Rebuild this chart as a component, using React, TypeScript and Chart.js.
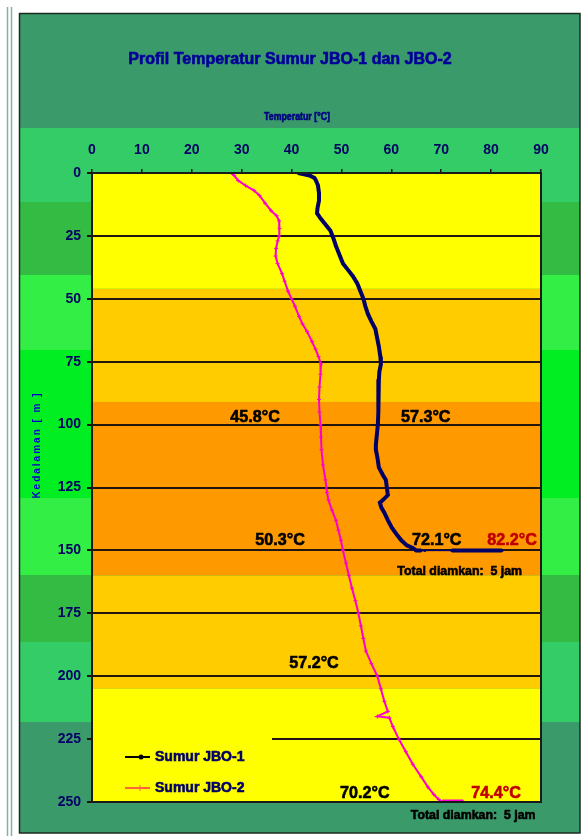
import { useEffect, useRef } from 'react';
import { Chart, registerables } from 'chart.js';
Chart.register(...registerables);

const W = 582;
const H = 836;

const tempTicks = [0, 10, 20, 30, 40, 50, 60, 70, 80, 90];
const depthTicks = [0, 25, 50, 75, 100, 125, 150, 175, 200, 225, 250];

// Sumur JBO-1 (depth m, temperature °C)
const jbo1Depth = [0, 0.5, 1, 2, 3, 5, 8, 11, 14, 16, 18, 20, 23, 26, 29, 32, 36, 39, 41, 44, 47, 50, 53, 56, 59, 62, 66, 69, 73, 76, 79, 82, 86, 90, 95, 100, 104, 108, 110, 113, 117, 120, 122, 125, 128, 130, 131, 133, 135, 138, 141, 144, 146, 148, 149, 150, 150, 150, 150, 150, 150, 150, 150, 150, 150, 150, 150, 150];
const jbo1Temp = [41.3, 42.5, 43.6, 44.6, 44.9, 45.3, 45.5, 45.5, 45.2, 45.1, 45.8, 46.6, 47.8, 48.4, 48.9, 49.5, 50.3, 51.5, 52.3, 53.2, 53.8, 54.4, 54.8, 55.3, 56.0, 56.8, 57.2, 57.5, 57.8, 57.9, 57.6, 57.5, 57.4, 57.4, 57.4, 57.3, 57.1, 56.9, 56.9, 57.2, 57.5, 58.3, 58.9, 59.1, 59.3, 58.3, 57.7, 58.0, 58.6, 59.3, 60.1, 61.2, 62.0, 63.1, 64.2, 65.0, 66.0, 66.7, 72.1, 74.5, 75.5, 76.5, 77.5, 78.5, 79.5, 80.5, 81.5, 82.2];

// Sumur JBO-2
const jbo2Depth = [0, 1, 3, 5, 7, 9, 12, 15, 17, 19, 22, 25, 27, 30, 33, 36, 40, 43, 47, 50, 53, 57, 60, 63, 67, 70, 73, 76, 80, 85, 90, 95, 100, 105, 110, 116, 122, 127, 130, 134, 138, 142, 146, 150, 155, 160, 165, 170, 175, 180, 185, 190, 195, 200, 205, 210, 214, 216, 216.5, 220, 225, 230, 235, 240, 244, 247, 249, 250, 250, 250, 250, 250, 250, 250];
const jbo2Temp = [28.0, 28.5, 29.3, 30.8, 32.5, 33.6, 34.7, 35.9, 37.0, 37.5, 37.6, 37.5, 37.2, 36.9, 36.8, 37.2, 38.1, 38.6, 39.3, 40.0, 40.7, 41.5, 42.2, 43.1, 44.1, 44.8, 45.4, 45.9, 45.8, 45.6, 45.5, 45.6, 45.8, 45.9, 46.0, 46.3, 46.8, 47.1, 47.4, 48.1, 48.9, 49.4, 49.9, 50.3, 50.9, 51.5, 52.1, 52.8, 53.4, 53.9, 54.4, 54.9, 56.0, 57.2, 57.9, 58.6, 59.3, 57.2, 59.6, 60.3, 61.5, 62.9, 64.3, 66.0, 67.3, 68.5, 69.5, 70.2, 71.0, 71.8, 72.5, 73.2, 73.8, 74.4];

// temperature zones inside plot (depth bounds)
const zoneDepths = [0, 46, 91, 160, 205, 250];
const zoneColors = ['#FFFF00', '#FFCC00', '#FF9900', '#FFCC00', '#FFFF00'];

// outer decorative bands (pixel rows)
const outerBands: [number, number, string][] = [
  [13, 128, '#3A9A6A'],
  [128, 202, '#33CC66'],
  [202, 275, '#33BB44'],
  [275, 350, '#33EE44'],
  [350, 498, '#00EE22'],
  [498, 575, '#33EE44'],
  [575, 642, '#33BB44'],
  [642, 722, '#33CC66'],
  [722, 833, '#3A9A6A'],
];

const notes = [
  { text: '45.8°C', t: 32.7, d: 97, color: '#000000', size: 17 },
  { text: '57.3°C', t: 66.9, d: 97, color: '#000000', size: 17 },
  { text: '50.3°C', t: 37.7, d: 146, color: '#000000', size: 17 },
  { text: '72.1°C', t: 69.1, d: 146, color: '#000000', size: 17 },
  { text: '82.2°C', t: 84.2, d: 146, color: '#C00000', size: 17 },
  { text: 'Total diamkan:  5 jam', t: 73.7, d: 158.3, color: '#000000', size: 13 },
  { text: '57.2°C', t: 44.5, d: 194.8, color: '#000000', size: 17 },
  { text: '70.2°C', t: 54.7, d: 246.4, color: '#000000', size: 17 },
  { text: '74.4°C', t: 81.0, d: 246.4, color: '#C00000', size: 17 },
  { text: 'Total diamkan:  5 jam', t: 76.4, d: 255.2, color: '#000000', size: 13 },
];

const FONT = '"Liberation Sans", Arial, sans-serif';

function txt(ctx: CanvasRenderingContext2D, s: string, x: number, y: number, font: string, color: string, align: CanvasTextAlign = 'center', sx = 1) {
  ctx.save();
  ctx.font = font;
  ctx.fillStyle = color;
  ctx.strokeStyle = color;
  ctx.lineWidth = 0.6;
  ctx.textAlign = align;
  ctx.textBaseline = 'middle';
  ctx.translate(x, y);
  ctx.scale(sx, 1);
  ctx.fillText(s, 0, 0);
  ctx.strokeText(s, 0, 0);
  ctx.restore();
}

const bgPlugin = {
  id: 'bgPlugin',
  beforeDraw(chart: any) {
    const ctx: CanvasRenderingContext2D = chart.ctx;
    const ca = chart.chartArea;
    const ys = chart.scales.y;
    ctx.save();
    ctx.fillStyle = '#FFFFFF';
    ctx.fillRect(0, 0, W, H);
    // page double lines
    ctx.strokeStyle = '#86B0A2';
    ctx.lineWidth = 1.5;
    [7.5, 11.5].forEach((x) => {
      ctx.beginPath();
      ctx.moveTo(x, 7);
      ctx.lineTo(x, H);
      ctx.stroke();
    });
    // outer bands
    outerBands.forEach(([y0, y1, c]) => {
      ctx.fillStyle = c;
      ctx.fillRect(19, y0, 561, y1 - y0);
    });
    ctx.strokeStyle = '#1C2A20';
    ctx.lineWidth = 1.5;
    ctx.strokeRect(19.5, 13.5, 560.5, 819.5);
    // plot zones
    for (let i = 0; i < zoneColors.length; i++) {
      const a = ys.getPixelForValue(zoneDepths[i]);
      const b = ys.getPixelForValue(zoneDepths[i + 1]);
      ctx.fillStyle = zoneColors[i];
      ctx.fillRect(ca.left, a, ca.right - ca.left, b - a);
    }
    ctx.restore();
  },
  afterDatasetsDraw(chart: any) {
    const ctx: CanvasRenderingContext2D = chart.ctx;
    const ca = chart.chartArea;
    const xs = chart.scales.x;
    const ys = chart.scales.y;
    ctx.save();
    // legend box
    ctx.fillStyle = '#FFFF00';
    ctx.fillRect(ca.left + 1, 733, 179, ca.bottom - 733 - 1);
    // frame
    ctx.strokeStyle = '#1A1A1A';
    ctx.lineWidth = 2;
    ctx.strokeRect(ca.left, ca.top, ca.right - ca.left, ca.bottom - ca.top);
    // legend entries
    ctx.lineWidth = 2;
    ctx.strokeStyle = '#000000';
    ctx.beginPath(); ctx.moveTo(125, 757); ctx.lineTo(150, 757); ctx.stroke();
    ctx.fillStyle = '#000000';
    ctx.beginPath(); ctx.arc(141, 757, 2.5, 0, Math.PI * 2); ctx.fill();
    ctx.strokeStyle = '#FF6633';
    ctx.beginPath(); ctx.moveTo(125, 788); ctx.lineTo(150, 788); ctx.stroke();
    ctx.lineWidth = 1;
    ctx.beginPath(); ctx.moveTo(140, 785); ctx.lineTo(140, 791); ctx.stroke();
    txt(ctx, 'Sumur JBO-1', 155, 757, `bold 14px ${FONT}`, '#000066', 'left');
    txt(ctx, 'Sumur JBO-2', 155, 788, `bold 14px ${FONT}`, '#000066', 'left');
    // annotations
    notes.forEach((n) => {
      txt(ctx, n.text, xs.getPixelForValue(n.t), ys.getPixelForValue(n.d), `bold ${n.size}px ${FONT}`, n.color, 'center', 0.95);
    });
    // titles
    txt(ctx, 'Profil Temperatur Sumur JBO-1 dan JBO-2', 290, 60, `bold 16px ${FONT}`, '#000099', 'center');
    txt(ctx, 'Temperatur [°C]', 297, 117, `bold 11px ${FONT}`, '#000080', 'center', 0.8);
    ctx.save();
    ctx.translate(37, 445);
    ctx.rotate(-Math.PI / 2);
    ctx.font = `bold 10px ${FONT}`;
    (ctx as any).letterSpacing = '2px';
    ctx.fillStyle = '#0000CC';
    ctx.textAlign = 'center';
    ctx.textBaseline = 'middle';
    ctx.fillText('Kedalaman [ m ]', 0, 0);
    ctx.restore();
    ctx.restore();
  },
};

export default function App() {
  const ref = useRef<HTMLCanvasElement>(null);
  useEffect(() => {
    if (!ref.current) return;
    const d1 = jbo1Depth.map((d, i) => ({ x: jbo1Temp[i], y: d }));
    const d2 = jbo2Depth.map((d, i) => ({ x: jbo2Temp[i], y: d }));
    const chart = new Chart(ref.current, {
      type: 'scatter',
      data: {
        datasets: [
          {
            label: 'Sumur JBO-1',
            data: d1,
            showLine: true,
            borderColor: '#000066',
            backgroundColor: '#000066',
            borderWidth: 4,
            pointRadius: 1.5,
            pointBorderWidth: 0,
            segment: {
              borderWidth: (c: any) => (c.p0.parsed.y === 150 && c.p1.parsed.x < 74 && c.p0.parsed.x > 65.5 ? 1.5 : 4),
            },
          } as any,
          {
            label: 'Sumur JBO-2',
            data: d2,
            showLine: true,
            borderColor: '#FF00CC',
            backgroundColor: '#FF00CC',
            borderWidth: 2,
            pointStyle: 'cross',
            pointRadius: 2,
            pointBorderWidth: 1,
            segment: {
              borderWidth: (c: any) => (c.p0.parsed.y === 250 && c.p1.parsed.y === 250 ? 5 : 2),
            },
          } as any,
        ],
      },
      options: {
        animation: false,
        responsive: false,
        devicePixelRatio: 1,
        layout: { padding: { left: 0, top: 0, right: 41, bottom: 34 } },
        plugins: { legend: { display: false }, tooltip: { enabled: false }, title: { display: false } },
        scales: {
          x: {
            type: 'linear',
            position: 'top',
            min: 0,
            max: 90,
            afterBuildTicks: (axis: any) => { axis.ticks = tempTicks.map((v) => ({ value: v })); },
            afterFit: (axis: any) => { axis.height = 173; },
            ticks: { color: '#000066', font: { family: FONT, size: 14, weight: 'bold' }, padding: 10 },
            grid: { drawOnChartArea: false, drawTicks: true, tickLength: 4, color: '#1A1A1A', lineWidth: 1.5 },
            border: { display: false },
          },
          y: {
            type: 'linear',
            reverse: true,
            min: 0,
            max: 250,
            afterBuildTicks: (axis: any) => { axis.ticks = depthTicks.map((v) => ({ value: v })); },
            afterFit: (axis: any) => { axis.width = 92; },
            ticks: { color: '#000066', font: { family: FONT, size: 14, weight: 'bold' }, padding: 6 },
            grid: { drawTicks: true, tickLength: 5, color: '#221510', lineWidth: 2 },
            border: { display: false },
          },
        },
      } as any,
      plugins: [bgPlugin],
    });
    return () => chart.destroy();
  }, []);
  return <canvas ref={ref} width={W} height={H} style={{ position: 'absolute', left: 0, top: 0, width: W, height: H }} />;
}
